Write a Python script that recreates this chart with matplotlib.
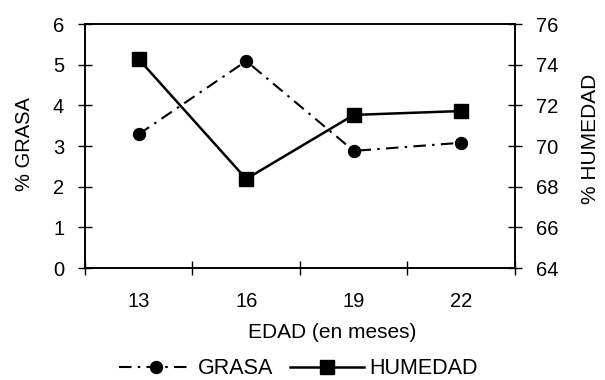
import matplotlib
matplotlib.use('Agg')
import matplotlib.pyplot as plt
import numpy as np

plt.rcParams['font.family'] = ['Liberation Sans', 'DejaVu Sans']

# data
edad = ['13', '16', '19', '22']
grasa = [3.29, 5.09, 2.88, 3.08]
humedad = [74.27, 68.38, 71.53, 71.72]

fig = plt.figure(figsize=(6.05, 3.8), dpi=100)
ax1 = fig.add_axes([0.1405, 0.2947, 0.7107, 0.6421])
ax2 = ax1.twinx()

x = np.arange(len(edad))
g, = ax1.plot(x, grasa, color='black', lw=1.5, linestyle=(0, (6, 3, 1.2, 3)),
              marker='o', markersize=8.6)
h, = ax2.plot(x, humedad, color='black', lw=1.8, linestyle='-',
              marker='s', markersize=10)

ax1.set_xlim(-0.5, len(edad) - 0.5)
ax1.set_ylim(0, 6)
ax2.set_ylim(64, 76)
ax1.set_yticks(range(0, 7))
ax2.set_yticks(range(64, 77, 2))

# category labels in the middle, tick marks between categories
ax1.set_xticks(np.arange(-0.5, len(edad)), minor=False)
ax1.set_xticklabels([])
ax1.set_xticks(x, minor=True)
ax1.set_xticklabels(edad, minor=True)
ax1.tick_params(axis='x', which='minor', length=0, labelsize=14.5, pad=17)
ax1.tick_params(axis='x', which='major', direction='inout', length=10, width=1)
ax1.tick_params(axis='y', direction='inout', length=10, width=1, labelsize=14.5, pad=10)
ax2.tick_params(axis='y', direction='inout', length=10, width=1, labelsize=14.5, pad=10)

ax1.set_xlabel('EDAD (en meses)', fontsize=15, va='baseline')
ax1.xaxis.set_label_coords(0.575, -0.287)
ax1.set_ylabel('% GRASA', fontsize=14.5, va='center')
ax1.yaxis.set_label_coords(-0.14, 0.508)
ax2.set_ylabel('% HUMEDAD', fontsize=15, rotation=90, va='center')
ax2.yaxis.set_label_coords(1.176, 0.529)

for a in (ax1, ax2):
    for s in a.spines.values():
        s.set_linewidth(1.2)

fig.legend([g, h], ['GRASA', 'HUMEDAD'], loc='center',
           bbox_to_anchor=(0.493, 0.029), ncol=2, frameon=False, fontsize=15.5,
           handlelength=3.4, handletextpad=0.25, columnspacing=0.8,
           borderpad=0)

fig.savefig('out.png', dpi=100)
